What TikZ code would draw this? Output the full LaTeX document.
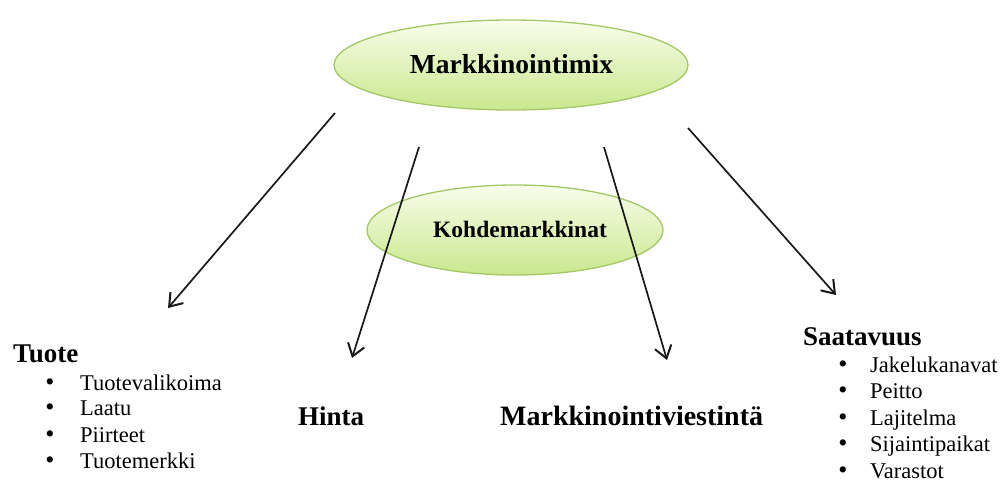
\documentclass[tikz,border=0pt]{standalone}
\usepackage{fontspec}
\setmainfont{Liberation Serif}
\usetikzlibrary{arrows.meta,shapes.geometric}
\definecolor{ellborder}{HTML}{A4C866}
\definecolor{elltop}{HTML}{F8FDEA}
\definecolor{ellbot}{HTML}{C9E88E}
\tikzset{
  oval/.style={ellipse, draw=ellborder, line width=1.3pt, top color=elltop, bottom color=ellbot, inner sep=0pt},
  head/.style={anchor=base west, inner sep=0pt, font=\fontsize{27}{30}\selectfont\bfseries},
  item/.style={anchor=base west, inner sep=0pt, font=\fontsize{22.5}{26}\selectfont},
  dot/.style={anchor=base, inner sep=0pt, font=\fontsize{26}{26}\selectfont},
  arr/.style={-{Straight Barb[length=12pt,width=17pt,line width=2pt]}, line width=1.7pt, black!90}
}
\begin{document}
\begin{tikzpicture}[x=1pt,y=-1pt]
\useasboundingbox (0,0) rectangle (1008,479);
\fill[white] (0,0) rectangle (1008,479);
% ellipses
\node[oval, minimum width=354pt, minimum height=90pt] (mix) at (511,65) {};
\node[anchor=base, inner sep=0pt, font=\fontsize{27.5}{30}\selectfont\bfseries] (mixt) at (511.5,73) {Markkinointimix};
\node[oval, minimum width=296pt, minimum height=90pt] (kohde) at (515,230) {};
\node[anchor=base, inner sep=0pt, font=\fontsize{23.5}{26}\selectfont\bfseries] (kohdet) at (520,237) {Kohdemarkkinat};
% arrow endpoints
\coordinate (s1) at (335,113); \coordinate (e1) at (168,308);
\coordinate (s2) at (419,147); \coordinate (e2) at (352,358);
\coordinate (s3) at (604,147); \coordinate (e3) at (667,360);
\coordinate (s4) at (688,128); \coordinate (e4) at (836,295);
\draw[arr] (s1) -- (e1);
\draw[arr] (s2) -- (e2);
\draw[arr] (s3) -- (e3);
\draw[arr] (s4) -- (e4);
% Tuote
\node[head] (tuote) at (13,362) {Tuote};
\foreach \t/\y/\n in {Tuotevalikoima/390/a, Laatu/415/b, Piirteet/442/c, Tuotemerkki/468/d}{
  \node[dot] (tb\n) at (50,\y) {•};
  \node[item] (ti\n) at (80,\y) {\t};
}
% Hinta
\node[head] (hinta) at (298,425) {Hinta};
% Markkinointiviestinta
\node[head, font=\fontsize{28}{30}\selectfont\bfseries] (viest) at (500,425) {Markkinointiviestintä};
% Saatavuus
\node[head] (saat) at (803,345) {Saatavuus};
\foreach \t/\y/\n in {Jakelukanavat/372/a, Peitto/398/b, Lajitelma/425/c, Sijaintipaikat/451/d, Varastot/478/e}{
  \node[dot] (sb\n) at (843,\y) {•};
  \node[item] (si\n) at (870,\y) {\t};
}
\end{tikzpicture}
\end{document}
